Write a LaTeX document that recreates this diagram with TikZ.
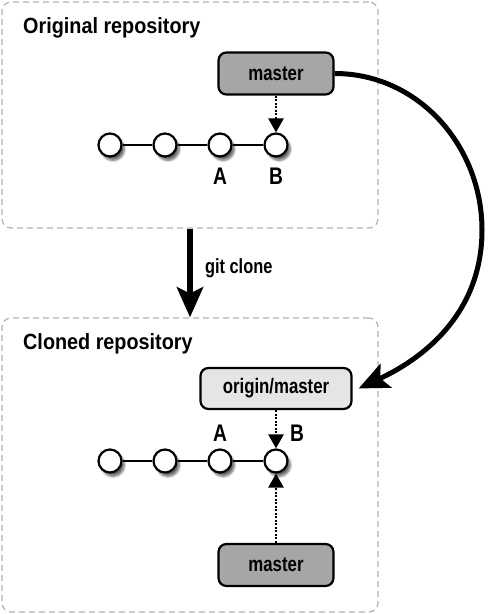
\documentclass[tikz,border=0pt]{standalone}
\usepackage{fontspec}
\setmainfont[FakeStretch=0.9]{Liberation Sans}
\newfontfamily\narrowfont[FakeStretch=0.8]{Liberation Sans}
\usetikzlibrary{arrows.meta,shadows.blur}

\tikzset{
  repo/.style={draw=black!30, dash pattern=on 6pt off 4pt, line width=1.2pt, rounded corners=9pt},
  title/.style={anchor=base west, inner sep=0pt, font=\fontsize{22}{26}\selectfont\bfseries},
  branch/.style={draw, line width=2.2pt, rounded corners=8pt, minimum width=115pt, minimum height=42pt,
    inner sep=0pt, font=\narrowfont\fontsize{21}{24}\selectfont\bfseries},
  commit/.style={draw, circle, line width=2.2pt, fill=white, minimum size=23pt, inner sep=0pt,
    blur shadow={shadow xshift=3pt, shadow yshift=-4pt, shadow blur steps=8, shadow opacity=60}},
  tag/.style={anchor=base, inner sep=0pt, font=\narrowfont\fontsize{24}{28}\selectfont\bfseries},
  pointer/.style={line width=2.6pt, dash pattern=on 2pt off 1.5pt, -{Triangle[width=15pt,length=14pt]}},
  bigarrow/.style={line width=5pt, -{Stealth[length=30pt,width=26pt,inset=6pt]}}
}

\begin{document}
\begin{tikzpicture}[x=1pt,y=1pt]
    \useasboundingbox (0,0) rectangle (488,614);
    % Repository frames
    \node[repo, minimum width=376pt, minimum height=226pt] (orig) at (190,499) {};
    \node[repo, minimum width=376pt, minimum height=294pt] (clone) at (190,149) {};
    \node[title] at (23,580) {Original repository};
    \node[title] at (23,264) {Cloned repository};
    % Commits
    \foreach \i/\x in {1/110,2/165,3/220,4/276} {
        \node[commit] (o\i) at (\x,469) {};
        \node[commit] (c\i) at (\x,153) {};
    }
    \draw[line width=1.6pt] (o1) -- (o2) -- (o3) -- (o4);
    \draw[line width=1.6pt] (c1) -- (c2) -- (c3) -- (c4);
    \node[tag] at (220,429) {A};
    \node[tag] at (276,429) {B};
    \node[tag] at (220,172) {A};
    \node[tag] at (297,172) {B};
    % Branches
    \node[branch, fill=black!35] (master) at (276,540.5) {master};
    \node[branch, fill=black!10, minimum width=151pt, minimum height=41pt] (origin) at (276,225.5) {origin/master};
    \node[branch, fill=black!35] (local) at (276,49) {master};
    \draw[pointer] (master) -- (o4);
    \draw[pointer] (origin) -- (c4);
    \draw[pointer] (local) -- (c4);
    % Clone arrows
    \draw[bigarrow, line width=6pt] (orig) -- node[midway, right=12pt, yshift=5pt, inner sep=0pt,
        font=\narrowfont\fontsize{20.5}{24}\selectfont\bfseries] {git clone} (clone);
    \coordinate (bend) at (482,384);
    \draw[bigarrow] (master.east) to[out=0,in=90] (bend) to[out=-90,in=25] ([xshift=6pt]origin.east);
\end{tikzpicture}
\end{document}
